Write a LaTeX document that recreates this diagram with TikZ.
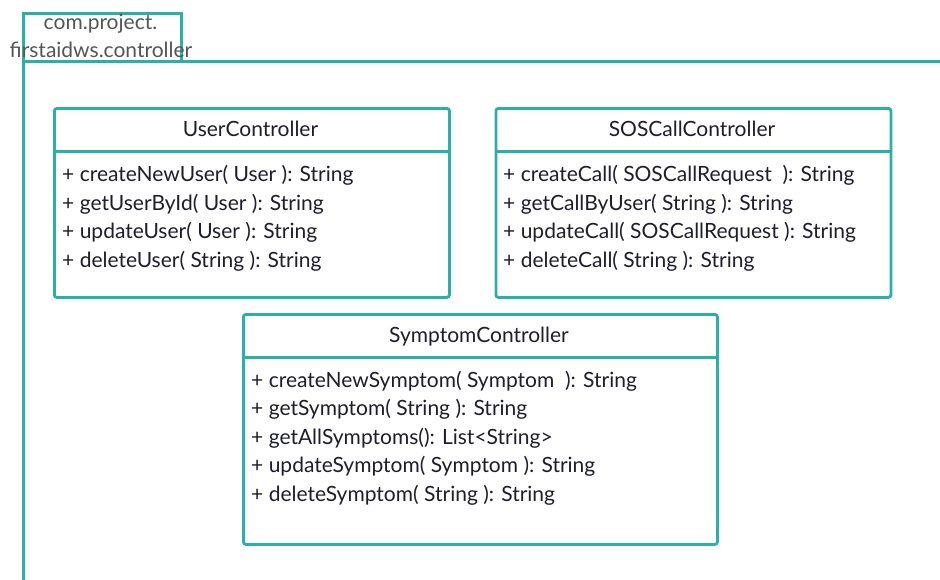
\documentclass[tikz,border=0pt]{standalone}
\usepackage{fontspec}
\setmainfont{Lato}
\usetikzlibrary{calc}
\definecolor{umlteal}{HTML}{2AAFA9}
\definecolor{umltext}{HTML}{1E1E2C}
\definecolor{pkgtext}{HTML}{555555}
\tikzset{
  pkgframe/.style={draw=umlteal, line width=2.8pt, inner sep=0pt, anchor=north west},
  classbox/.style={draw=umlteal, line width=2.8pt, rounded corners=2.5pt, fill=white,
    inner sep=0pt, anchor=north west},
  divider/.style={draw=umlteal, line width=2.8pt},
  classname/.style={font=\fontsize{21}{25}\selectfont, text=umltext, anchor=base, inner sep=0pt},
  member/.style={font=\fontsize{21}{25}\selectfont, text=umltext, anchor=base west, inner sep=0pt},
  pkglabel/.style={font=\fontsize{21}{25}\selectfont, text=pkgtext, anchor=base, inner sep=0pt}
}
\begin{document}
\begin{tikzpicture}[x=1pt,y=-1pt]
\useasboundingbox (0,0) rectangle (940,579);

% package frame: body (runs past the page edges) and tab
\node[pkgframe, minimum width=940pt, minimum height=560pt] (body) at (22,60) {};
\node[pkgframe, minimum width=158pt, minimum height=48pt] (tab) at (22,12) {};
\node[pkglabel] (pkg1) at (100.5,29.5) {com.project.};
\node[pkglabel] (pkg2) at (101,57) {firstaidws.controller};

% UserController
\node[classbox, minimum width=395pt, minimum height=189pt] (user) at (53,107) {};
\draw[divider] ([yshift=-44.5pt]user.north west) -- ([yshift=-44.5pt]user.north east);
\node[classname] (usertitle) at (250.5,136.7) {UserController};
\node[member] (u1) at (62,181.5) {+ createNewUser( User ): String};
\node[member] (u2) at (62,210) {+ getUserById( User ): String};
\node[member] (u3) at (62,238.5) {+ updateUser( User ): String};
\node[member] (u4) at (62,267) {+ deleteUser( String ): String};

% SOSCallController
\node[classbox, minimum width=395pt, minimum height=189pt] (sos) at (494.5,107) {};
\draw[divider] ([yshift=-44.5pt]sos.north west) -- ([yshift=-44.5pt]sos.north east);
\node[classname] (sostitle) at (692,136.7) {SOSCallController};
\node[member] (s1) at (503,181.5) {+ createCall( SOSCallRequest~ ): String};
\node[member] (s2) at (503,210) {+ getCallByUser( String ): String};
\node[member] (s3) at (503,238.5) {+ updateCall( SOSCallRequest ): String};
\node[member] (s4) at (503,267) {+ deleteCall( String ): String};

% SymptomController
\node[classbox, minimum width=474pt, minimum height=230pt] (sym) at (242,313) {};
\draw[divider] ([yshift=-44.5pt]sym.north west) -- ([yshift=-44.5pt]sym.north east);
\node[classname] (symtitle) at (479,342.7) {SymptomController};
\node[member] (y1) at (251,387.3) {+ createNewSymptom( Symptom~ ): String};
\node[member] (y2) at (251,415.8) {+ getSymptom( String ): String};
\node[member] (y3) at (251,444.3) {+ getAllSymptoms(): List<String>};
\node[member] (y4) at (251,472.8) {+ updateSymptom( Symptom ): String};
\node[member] (y5) at (251,501.3) {+ deleteSymptom( String ): String};
\end{tikzpicture}
\end{document}
